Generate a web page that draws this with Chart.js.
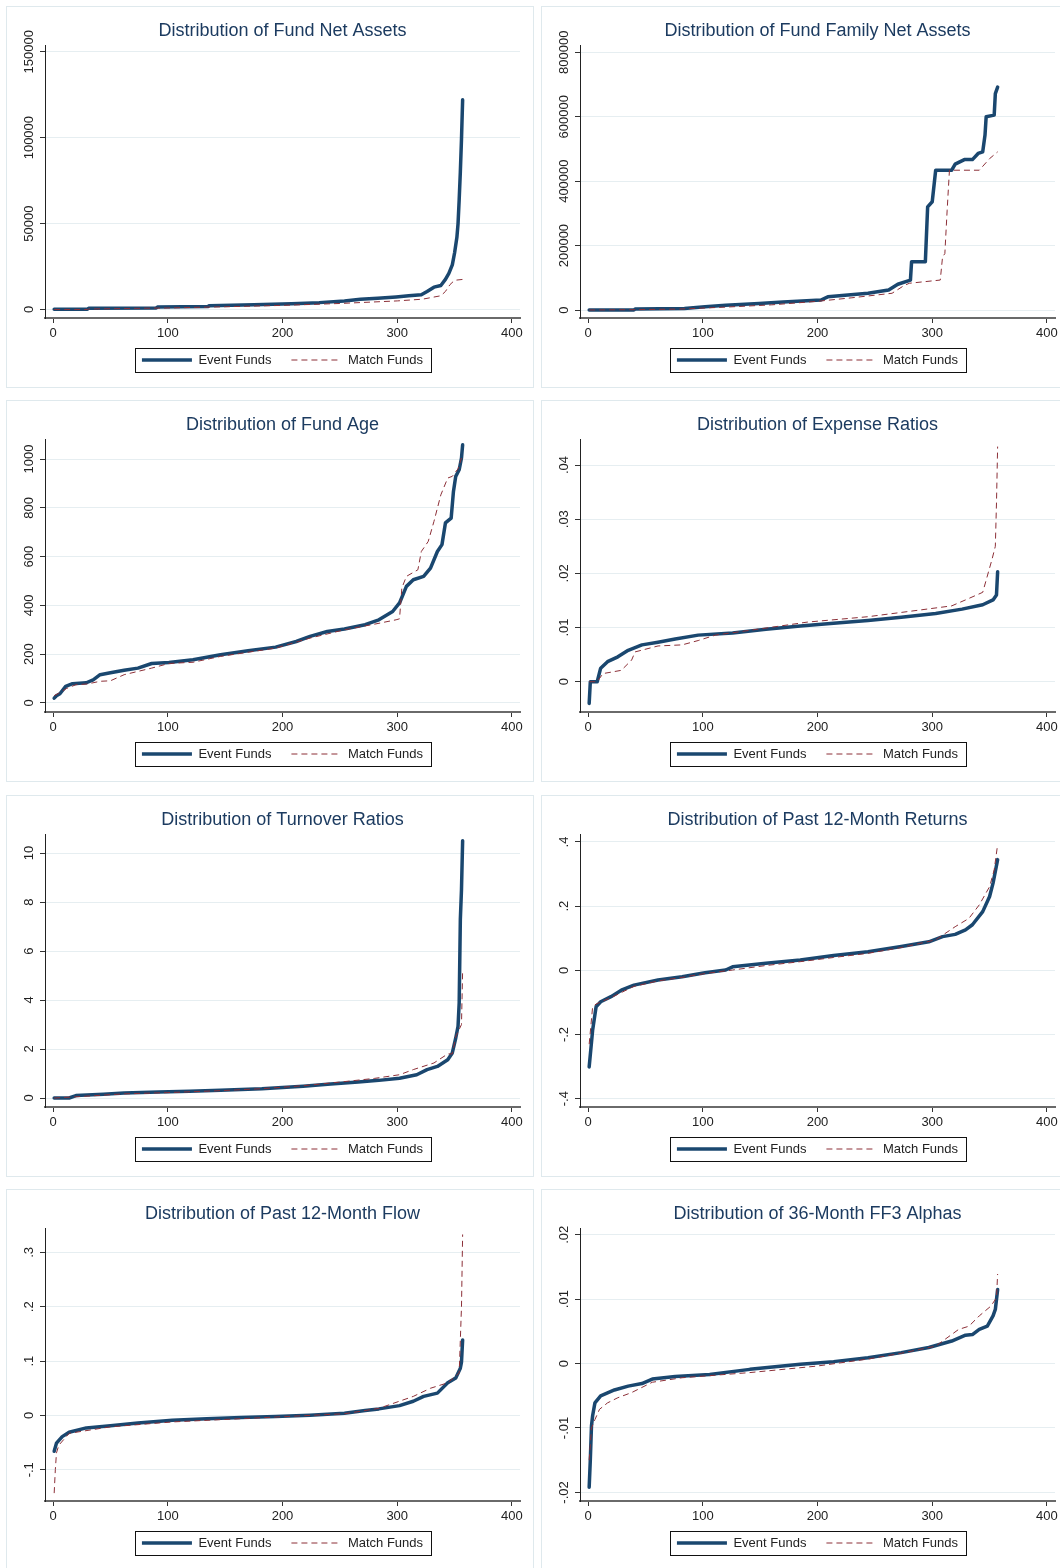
<!DOCTYPE html>
<html>
<head>
<meta charset="utf-8">
<title>Distributions: Event Funds vs Match Funds</title>
<script src="https://cdn.jsdelivr.net/npm/chart.js@4/dist/chart.umd.min.js"></script>
<style>
  html, body { margin: 0; padding: 0; background: #fff; overflow: hidden; }
  body { width: 1060px; height: 1568px; position: relative; }
  .panel { position: absolute; width: 528px; height: 382px; background: #fff; }
  .panel canvas { position: absolute; left: 0; top: 0; }
  .frame { position: absolute; left: 0; top: 0; width: 526px; height: 380px; border: 1px solid #dfe9ed; pointer-events: none; }
</style>
</head>
<body>
<script>
// shared
const seriesNames = ['Event Funds', 'Match Funds'];
const xTicks = [0, 100, 200, 300, 400];

// Fund net assets
const naTicks = [0, 50000, 100000, 150000];
const naEventX = [1, 30, 31, 90, 91, 135, 136, 175, 208, 232, 254, 268, 283, 299, 310, 321, 326, 332, 338, 342, 345, 348, 350, 352, 353, 354, 355, 356, 357];
const naEventY = [100, 200, 700, 900, 1400, 1700, 2200, 2800, 3400, 4000, 4900, 5900, 6500, 7300, 8000, 8600, 10500, 13000, 14000, 17500, 21000, 26000, 33000, 42000, 50000, 64000, 80000, 99000, 122000];
const naMatchX = [1, 30, 31, 100, 150, 200, 250, 300, 322, 338, 342, 346, 350, 357];
const naMatchY = [0, 0, 300, 900, 1600, 2400, 3500, 5000, 6000, 8000, 10500, 14500, 17000, 17500];

// Fund family net assets
const famTicks = [0, 200000, 400000, 600000, 800000];
const famEventX = [1, 40, 41, 84, 102, 120, 149, 170, 203, 209, 244, 262, 270, 281, 282, 294, 296, 300, 303, 317, 320, 328, 335, 340, 344, 346, 347, 354, 355, 357];
const famEventY = [0, 0, 3000, 5000, 10000, 15000, 20000, 25000, 31000, 41000, 52000, 62000, 80000, 93000, 150000, 150000, 320000, 336000, 434000, 434000, 453000, 467000, 467000, 486000, 491000, 543000, 600000, 605000, 672000, 692000];
const famMatchX = [1, 40, 80, 120, 160, 200, 230, 265, 275, 280, 307, 309, 311, 313, 315, 341, 350, 357];
const famMatchY = [0, 1000, 3000, 9000, 16000, 27000, 38000, 52000, 75000, 83000, 93000, 165000, 175000, 310000, 434000, 434000, 470000, 491000];

// Fund age
const ageTicks = [0, 200, 400, 600, 800, 1000];
const ageEventX = [1, 3, 6, 11, 17, 29, 35, 41, 50, 62, 74, 86, 101, 122, 146, 170, 194, 212, 224, 239, 254, 272, 284, 296, 302, 308, 314, 323, 329, 335, 339, 342, 347, 349, 351, 354, 356, 357];
const ageEventY = [20, 30, 38, 68, 79, 83, 95, 116, 124, 134, 143, 162, 166, 177, 198, 214, 229, 252, 273, 293, 303, 321, 341, 375, 410, 478, 505, 519, 553, 621, 649, 738, 758, 867, 929, 956, 1004, 1058];
const ageMatchX = [1, 5, 12, 20, 30, 41, 50, 62, 86, 101, 122, 146, 194, 224, 254, 278, 299, 302, 304, 308, 318, 321, 327, 332, 338, 344, 348, 353, 356];
const ageMatchY = [30, 40, 60, 75, 78, 89, 91, 116, 143, 162, 167, 191, 225, 266, 300, 321, 341, 345, 471, 519, 546, 621, 662, 744, 853, 922, 929, 960, 1004];

// Expense ratios
const expTicks = [0, 0.01, 0.02, 0.03, 0.04];
const expEventX = [1, 2, 8, 11, 17, 26, 35, 47, 61, 76, 96, 126, 155, 185, 214, 244, 273, 303, 326, 344, 353, 356, 357];
const expEventY = [-0.004, 0, 0, 0.0025, 0.0037, 0.0046, 0.0058, 0.0068, 0.0073, 0.0079, 0.0086, 0.009, 0.0097, 0.0103, 0.0108, 0.0113, 0.0119, 0.0126, 0.0134, 0.0142, 0.0151, 0.016, 0.0203];
const expMatchX = [1, 8, 13, 29, 38, 41, 61, 82, 96, 111, 155, 191, 244, 288, 317, 329, 344, 348, 352, 355, 356, 357];
const expMatchY = [0, 0, 0.0015, 0.0021, 0.004, 0.0055, 0.0066, 0.0068, 0.0076, 0.0086, 0.0099, 0.011, 0.012, 0.0132, 0.014, 0.0151, 0.0165, 0.0195, 0.0225, 0.025, 0.033, 0.0434];

// Turnover ratios
const turnTicks = [0, 2, 4, 6, 8, 10];
const turnEventX = [1, 14, 20, 44, 62, 92, 119, 146, 182, 218, 242, 266, 284, 302, 317, 326, 335, 344, 348, 351, 353, 354, 355, 356, 357];
const turnEventY = [0, 0, 0.1, 0.15, 0.2, 0.25, 0.28, 0.32, 0.38, 0.48, 0.57, 0.65, 0.72, 0.81, 0.95, 1.16, 1.29, 1.56, 1.84, 2.45, 2.93, 3.88, 7.28, 8.5, 10.5];
const turnMatchX = [1, 20, 62, 100, 146, 182, 218, 250, 280, 302, 314, 332, 344, 348, 351, 356, 357];
const turnMatchY = [0, 0.05, 0.17, 0.22, 0.3, 0.38, 0.5, 0.65, 0.8, 0.95, 1.16, 1.43, 1.8, 1.8, 2.5, 3.0, 5.2];

// Past 12-month returns
const retTicks = [-0.4, -0.2, 0, 0.2, 0.4];
const retEventX = [1, 4, 7, 11, 20, 29, 40, 61, 82, 102, 120, 126, 155, 185, 214, 244, 273, 297, 309, 320, 329, 335, 344, 350, 353, 357];
const retEventY = [-0.301, -0.187, -0.114, -0.098, -0.082, -0.062, -0.046, -0.03, -0.02, -0.0075, 0.001, 0.011, 0.022, 0.032, 0.046, 0.058, 0.074, 0.089, 0.105, 0.112, 0.126, 0.142, 0.183, 0.23, 0.272, 0.345];
const retMatchX = [1, 4, 7, 20, 40, 61, 82, 102, 126, 155, 185, 214, 244, 273, 303, 320, 332, 341, 350, 354, 357];
const retMatchY = [-0.23, -0.114, -0.105, -0.085, -0.05, -0.033, -0.022, -0.01, 0.001, 0.015, 0.027, 0.04, 0.053, 0.071, 0.095, 0.136, 0.162, 0.204, 0.261, 0.313, 0.392];

// Past 12-month flow
const flowTicks = [-0.1, 0, 0.1, 0.2, 0.3];
const flowEventX = [1, 3, 8, 14, 29, 50, 74, 104, 134, 164, 194, 224, 254, 272, 284, 302, 314, 323, 335, 344, 351, 355, 356, 357];
const flowEventY = [-0.066, -0.051, -0.039, -0.031, -0.023, -0.019, -0.014, -0.009, -0.006, -0.004, -0.002, 0.0004, 0.004, 0.009, 0.012, 0.018, 0.026, 0.035, 0.041, 0.06, 0.069, 0.087, 0.098, 0.139];
const flowMatchX = [1, 2, 3, 5, 14, 50, 104, 194, 254, 284, 314, 329, 344, 354, 356, 357];
const flowMatchY = [-0.143, -0.1, -0.069, -0.055, -0.033, -0.021, -0.012, -0.003, 0.003, 0.013, 0.035, 0.05, 0.06, 0.078, 0.2, 0.333];

// 36-month FF3 alphas
const alphaTicks = [-0.02, -0.01, 0, 0.01, 0.02];
const alphaEventX = [1, 2, 3, 4, 6, 11, 23, 35, 47, 56, 76, 106, 141, 185, 214, 244, 273, 297, 317, 329, 335, 341, 348, 353, 355, 357];
const alphaEventY = [-0.0192, -0.0149, -0.0097, -0.0081, -0.0061, -0.005, -0.0041, -0.0035, -0.0031, -0.0024, -0.002, -0.0017, -0.0009, -0.0001, 0.0003, 0.0009, 0.0017, 0.0025, 0.0035, 0.0044, 0.0045, 0.0053, 0.0058, 0.0074, 0.0084, 0.0115];
const alphaMatchX = [1, 3, 6, 10, 17, 26, 38, 56, 82, 141, 199, 244, 273, 303, 323, 332, 341, 351, 356, 357];
const alphaMatchY = [-0.015, -0.01, -0.0087, -0.0071, -0.0061, -0.0053, -0.0045, -0.0029, -0.0022, -0.0014, -0.0004, 0.0007, 0.0016, 0.0027, 0.0053, 0.0058, 0.0074, 0.0089, 0.0102, 0.0139];

// one entry per panel, row by row
const panels = [
    { title: 'Distribution of Fund Net Assets', ticks: naTicks, min: -4945, max: 153900, ev: [naEventX, naEventY], mt: [naMatchX, naMatchY] },
    { title: 'Distribution of Fund Family Net Assets', ticks: famTicks, min: -24800, max: 822700, ev: [famEventX, famEventY], mt: [famMatchX, famMatchY] },
    { title: 'Distribution of Fund Age', ticks: ageTicks, min: -36.9, max: 1082, ev: [ageEventX, ageEventY], mt: [ageMatchX, ageMatchY] },
    { title: 'Distribution of Expense Ratios', ticks: expTicks, min: -0.00559, max: 0.0448, ev: [expEventX, expEventY], mt: [expMatchX, expMatchY] },
    { title: 'Distribution of Turnover Ratios', ticks: turnTicks, min: -0.367, max: 10.776, ev: [turnEventX, turnEventY], mt: [turnMatchX, turnMatchY] },
    { title: 'Distribution of Past 12-Month Returns', ticks: retTicks, min: -0.4259, max: 0.4249, ev: [retEventX, retEventY], mt: [retMatchX, retMatchY] },
    { title: 'Distribution of Past 12-Month Flow', ticks: flowTicks, min: -0.1575, max: 0.3449, ev: [flowEventX, flowEventY], mt: [flowMatchX, flowMatchY] },
    { title: 'Distribution of 36-Month FF3 Alphas', ticks: alphaTicks, min: -0.02133, max: 0.02104, ev: [alphaEventX, alphaEventY], mt: [alphaMatchX, alphaMatchY] }
];

const colLeft = [6, 541];
const rowTop = [6, 400, 795, 1189];
const FONT = '"Liberation Sans", Arial, Helvetica, sans-serif';
const NAVY = '#1a476f';
const MAROON = '#8c2f37';

Chart.defaults.font.family = FONT;

// Stata style labels: .04, -.2 etc.
function stataNum(v) {
    const s = String(Math.round(v * 1e6) / 1e6);
    return s.replace(/^(-?)0\./, '$1.');
}

function toPoints(xs, ys) {
    return xs.map((x, i) => ({ x: x, y: ys[i] }));
}

// tick labels (y ones rotated) + box round the legend
const stataFrame = {
    id: 'stataFrame',
    afterDraw(chart) {
        const ctx = chart.ctx;
        const xScale = chart.scales.x;
        const yScale = chart.scales.y;
        const area = chart.chartArea;
        ctx.save();
        ctx.font = '13px ' + FONT;
        ctx.fillStyle = '#222';
        ctx.textAlign = 'center';
        ctx.textBaseline = 'middle';
        yScale.ticks.forEach(t => {
            const py = yScale.getPixelForValue(t.value);
            ctx.save();
            ctx.translate(area.left - 16, py);
            ctx.rotate(-Math.PI / 2);
            ctx.fillText(stataNum(t.value), 0, 0);
            ctx.restore();
        });
        xScale.ticks.forEach(t => {
            ctx.fillText(stataNum(t.value), xScale.getPixelForValue(t.value), area.bottom + 15.5);
        });

        const boxes = chart.legend.legendHitBoxes;
        if (boxes && boxes.length) {
            const first = boxes[0];
            const last = boxes[boxes.length - 1];
            const l = Math.round(first.left - 7);
            const r = Math.round(last.left + last.width + 8);
            const cy = first.top + first.height / 2;
            ctx.strokeStyle = '#111';
            ctx.lineWidth = 1;
            ctx.strokeRect(l + 0.5, Math.round(cy - 12) + 0.5, r - l, 24);
        }
        ctx.restore();
    }
};

function makePanel(p, idx) {
    const col = idx % 2;
    const row = Math.floor(idx / 2);

    const div = document.createElement('div');
    div.className = 'panel';
    div.style.left = colLeft[col] + 'px';
    div.style.top = rowTop[row] + 'px';
    const canvas = document.createElement('canvas');
    canvas.width = 528;
    canvas.height = 382;
    div.appendChild(canvas);
    const frame = document.createElement('div');
    frame.className = 'frame';
    div.appendChild(frame);
    document.body.appendChild(div);

    new Chart(canvas.getContext('2d'), {
        type: 'line',
        data: {
            // match drawn last so the dashes sit on top of the thick line
            datasets: [
                {
                    label: seriesNames[1],
                    data: toPoints(p.mt[0], p.mt[1]),
                    borderColor: MAROON,
                    borderWidth: 1,
                    borderDash: [6, 4],
                    pointRadius: 0,
                    tension: 0,
                    fill: false
                },
                {
                    label: seriesNames[0],
                    data: toPoints(p.ev[0], p.ev[1]),
                    borderColor: NAVY,
                    borderWidth: 3.5,
                    borderJoinStyle: 'round',
                    borderCapStyle: 'round',
                    pointRadius: 0,
                    tension: 0,
                    fill: false
                }
            ]
        },
        options: {
            responsive: false,
            animation: false,
            devicePixelRatio: 1,
            layout: { padding: { left: 39, right: 14, top: 0, bottom: 11.5 } },
            scales: {
                x: {
                    type: 'linear',
                    min: -7,
                    max: 407,
                    afterBuildTicks: s => { s.ticks = xTicks.map(v => ({ value: v })); },
                    afterFit: s => { s.height = 15.5; },
                    grid: { drawOnChartArea: false, drawTicks: true, tickLength: 5, tickColor: '#333' },
                    border: { color: '#6a6a6a', width: 2 },
                    ticks: { display: false }
                },
                y: {
                    type: 'linear',
                    min: p.min,
                    max: p.max,
                    afterBuildTicks: s => { s.ticks = p.ticks.map(v => ({ value: v })); },
                    afterFit: s => { s.width = 0; },
                    grid: { color: '#e6eef1', lineWidth: 1, tickColor: '#333', tickLength: 5 },
                    border: { color: '#222', width: 1 },
                    ticks: { display: false }
                }
            },
            plugins: {
                tooltip: { enabled: false },
                title: {
                    display: true,
                    text: p.title,
                    color: '#1c3b60',
                    font: { size: 18, weight: 'normal' },
                    padding: { top: 14, bottom: 3.4 }
                },
                legend: {
                    position: 'bottom',
                    align: 'center',
                    labels: {
                        usePointStyle: true,
                        pointStyle: 'line',
                        pointStyleWidth: 50,
                        padding: 20,
                        color: '#222',
                        font: { size: 13 },
                        generateLabels: chart => chart.data.datasets.map((ds, i) => ({
                            text: ds.label,
                            strokeStyle: ds.borderColor,
                            fillStyle: ds.borderColor,
                            lineWidth: ds.borderWidth,
                            lineDash: ds.borderDash || [],
                            lineCap: 'butt',
                            pointStyle: 'line',
                            fontColor: '#222',
                            hidden: false,
                            datasetIndex: i
                        })).reverse()
                    }
                }
            }
        },
        plugins: [stataFrame]
    });
}

panels.forEach(makePanel);
</script>
</body>
</html>
